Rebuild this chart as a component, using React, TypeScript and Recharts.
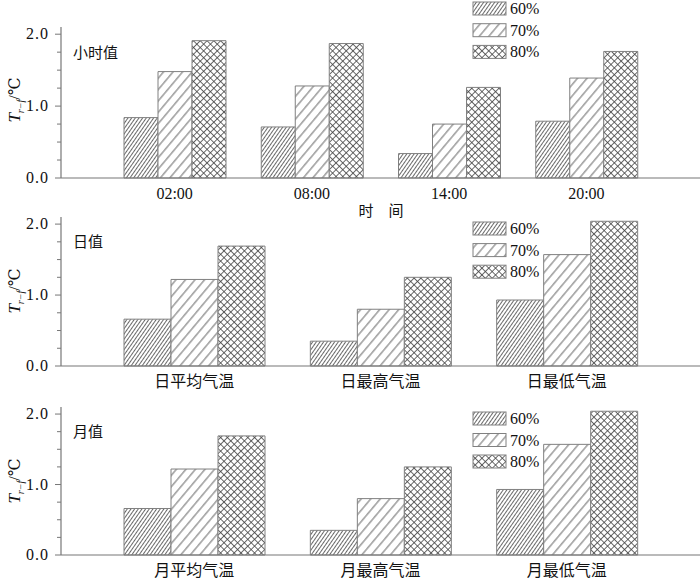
import React from 'react';
import { BarChart, Bar, XAxis, YAxis } from 'recharts';

// categories
const hourCategories = ['02:00', '08:00', '14:00', '20:00'];
const dayCategories = ['日平均气温', '日最高气温', '日最低气温'];
const monthCategories = ['月平均气温', '月最高气温', '月最低气温'];

// series values (°C)
const hour60 = [0.84, 0.71, 0.34, 0.79];
const hour70 = [1.48, 1.28, 0.75, 1.39];
const hour80 = [1.91, 1.87, 1.26, 1.76];

const day60 = [0.66, 0.35, 0.93];
const day70 = [1.22, 0.8, 1.57];
const day80 = [1.69, 1.25, 2.04];

const month60 = [0.66, 0.35, 0.93];
const month70 = [1.22, 0.8, 1.57];
const month80 = [1.69, 1.25, 2.04];

const seriesNames = ['60%', '70%', '80%'];
const yTicks = [0, 0.25, 0.5, 0.75, 1, 1.25, 1.5, 1.75, 2];

const SERIF = 'Liberation Serif, DejaVu Serif, serif';
const MIXED = 'Liberation Serif, DejaVu Serif, Noto Sans CJK SC, serif';
const AXIS = '#777';
const INK = '#111';
const fills = ['url(#h60)', 'url(#h70)', 'url(#x80)'];

const build = (cats: string[], a: number[], b: number[], c: number[]) =>
  cats.map((name, i) => ({ name, p60: a[i], p70: b[i], p80: c[i] }));

const hourData = build(hourCategories, hour60, hour70, hour80);
const dayData = build(dayCategories, day60, day70, day80);
const monthData = build(monthCategories, month60, month70, month80);

function YTick({ x, y, payload }: any) {
  const v = payload.value;
  const major = Math.abs(v - Math.round(v)) < 1e-6;
  return (
    <g>
      <line x1={x - (major ? 6 : 4)} x2={x} y1={y} y2={y} stroke={AXIS} strokeWidth={1} />
      {major && (
        <text x={x - 12} y={y} dy={5} textAnchor="end" fill={INK} fontSize={16} style={{ fontFamily: SERIF }} letterSpacing={1}>
          {v.toFixed(1)}
        </text>
      )}
    </g>
  );
}

function XTick({ x, y, payload }: any) {
  return (
    <text x={x} y={y} dy={12} textAnchor="middle" fill={INK} fontSize={16} style={{ fontFamily: MIXED }}>
      {payload.value}
    </text>
  );
}

function Panel({ data, top, height, marginTop, xHeight, barSize, pad, tickMargin }: any) {
  return (
    <div style={{ position: 'absolute', left: 0, top }}>
      <BarChart
        width={700}
        height={height}
        data={data}
        margin={{ top: marginTop, right: 0, bottom: 0, left: 0 }}
        barGap={0}
        barSize={barSize}
      >
        <XAxis
          dataKey="name"
          height={xHeight}
          interval={0}
          tickLine={false}
          tickSize={0}
          tickMargin={tickMargin}
          padding={{ left: pad, right: pad }}
          axisLine={{ stroke: AXIS, strokeWidth: 1.2 }}
          tick={<XTick />}
        />
        <YAxis
          width={61}
          domain={[0, 2.1]}
          ticks={yTicks}
          interval={0}
          tickLine={false}
          tickSize={0}
          tickMargin={0}
          axisLine={{ stroke: AXIS, strokeWidth: 1.2 }}
          tick={<YTick />}
        />
        {['p60', 'p70', 'p80'].map((k, i) => (
          <Bar key={k} dataKey={k} name={seriesNames[i]} fill={fills[i]} stroke="#808080" strokeWidth={1} isAnimationActive={false} />
        ))}
      </BarChart>
    </div>
  );
}

function YTitle({ cy }: { cy: number }) {
  const cx = 20;
  return (
    <text transform={`rotate(-90 ${cx} ${cy})`} x={cx} y={cy} textAnchor="middle" fill={INK} style={{ fontFamily: SERIF }}>
      <tspan fontSize={17} fontStyle="italic">T</tspan>
      <tspan fontSize={10} fontStyle="italic" dy={4}>r−f</tspan>
      <tspan fontSize={16} dy={-4}>/℃</tspan>
    </text>
  );
}

function Legend({ top, gap }: { top: number; gap: number }) {
  return (
    <g>
      {seriesNames.map((n, i) => (
        <g key={n}>
          <rect x={473} y={top + i * gap} width={33} height={13} fill={fills[i]} stroke="#808080" strokeWidth={1} />
          <text x={510} y={top + i * gap + 12} fill={INK} fontSize={16} style={{ fontFamily: SERIF }}>
            {n}
          </text>
        </g>
      ))}
    </g>
  );
}

export default function App() {
  return (
    <div style={{ position: 'absolute', left: 0, top: 0, width: 700, height: 579, background: '#fff', overflow: 'hidden' }}>
      <Panel data={hourData} top={0} height={220} marginTop={27} xHeight={42} barSize={34} pad={45} tickMargin={9} />
      <Panel data={dayData} top={200} height={190} marginTop={17} xHeight={24} barSize={47} pad={40} tickMargin={9} />
      <Panel data={monthData} top={390} height={189} marginTop={17} xHeight={24} barSize={47} pad={40} tickMargin={9} />
      <svg width={700} height={579} style={{ position: 'absolute', left: 0, top: 0, pointerEvents: 'none' }}>
        <defs>
          <pattern id="h60" patternUnits="userSpaceOnUse" width={3} height={3} patternTransform="rotate(35)">
            <rect width={3} height={3} fill="#fff" />
            <line x1={1.5} y1={0} x2={1.5} y2={3} stroke="#444" strokeWidth={0.8} />
          </pattern>
          <pattern id="h70" patternUnits="userSpaceOnUse" width={7.3} height={7.3} patternTransform="rotate(40)">
            <rect width={7.3} height={7.3} fill="#fff" />
            <line x1={3.6} y1={0} x2={3.6} y2={7.3} stroke="#444" strokeWidth={0.8} />
          </pattern>
          <pattern id="x80" patternUnits="userSpaceOnUse" width={4.8} height={4.8} patternTransform="rotate(45)">
            <rect width={4.8} height={4.8} fill="#fff" />
            <line x1={2.4} y1={0} x2={2.4} y2={4.8} stroke="#444" strokeWidth={0.8} />
            <line x1={0} y1={2.4} x2={4.8} y2={2.4} stroke="#444" strokeWidth={0.8} />
          </pattern>
        </defs>
        <text x={73} y={58} fill={INK} fontSize={15} style={{ fontFamily: MIXED }}>小时值</text>
        <text x={73} y={247} fill={INK} fontSize={15} style={{ fontFamily: MIXED }}>日值</text>
        <text x={73} y={437} fill={INK} fontSize={15} style={{ fontFamily: MIXED }}>月值</text>
        <text x={381} y={216} textAnchor="middle" fill={INK} fontSize={15} style={{ fontFamily: MIXED }}>时　间</text>
        <YTitle cy={100} />
        <YTitle cy={291} />
        <YTitle cy={481} />
        <Legend top={2} gap={21.7} />
        <Legend top={222} gap={21.6} />
        <Legend top={412} gap={21.5} />
      </svg>
    </div>
  );
}
